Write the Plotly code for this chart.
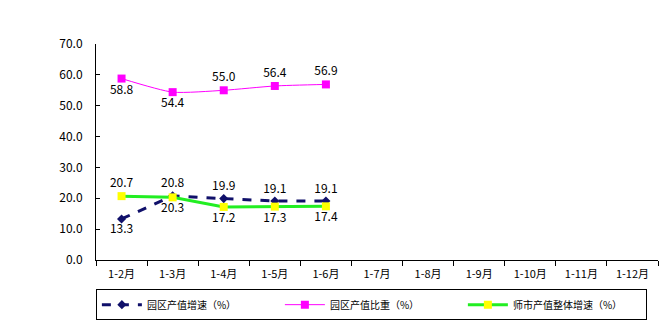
import plotly.graph_objects as go

categories = ["1-2月", "1-3月", "1-4月", "1-5月", "1-6月", "1-7月",
              "1-8月", "1-9月", "1-10月", "1-11月", "1-12月"]
months_done = categories[:5]

park_growth = [13.3, 20.8, 19.9, 19.1, 19.1]       # 园区产值增速（%）
park_share = [58.8, 54.4, 55.0, 56.4, 56.9]        # 园区产值比重（%）
city_growth = [20.7, 20.3, 17.2, 17.3, 17.4]       # 师市产值整体增速（%）

share_pos = ["bottom center", "bottom center", "top center", "top center", "top center"]
park_pos = ["bottom center", "top center", "top center", "top center", "top center"]
city_pos = ["top center", "bottom center", "bottom center", "bottom center", "bottom center"]

y_ticks = [0, 10, 20, 30, 40, 50, 60, 70]

FONT = "Noto Sans CJK SC"
label_font = dict(family=FONT, size=12, color="#000000")

fig = go.Figure()

fig.add_trace(go.Scatter(
    x=months_done, y=park_growth, name="园区产值增速（%）",
    mode="lines+markers+text",
    line=dict(color="#10106a", width=3, dash="dash"),
    marker=dict(symbol="diamond", size=7, color="#10106a"),
    text=[f"{v:.1f}" for v in park_growth], textposition=park_pos,
    textfont=label_font,
))
fig.add_trace(go.Scatter(
    x=months_done, y=park_share, name="园区产值比重（%）",
    mode="lines+markers+text",
    line=dict(color="#ff00ff", width=1, shape="spline", smoothing=0.6),
    marker=dict(symbol="square", size=8, color="#ff00ff"),
    text=[f"{v:.1f}" for v in park_share], textposition=share_pos,
    textfont=label_font,
))
fig.add_trace(go.Scatter(
    x=months_done, y=city_growth, name="师市产值整体增速（%）",
    mode="lines+markers+text",
    line=dict(color="#22ee22", width=3),
    marker=dict(symbol="square", size=8, color="#ffff00"),
    text=[f"{v:.1f}" for v in city_growth], textposition=city_pos,
    textfont=label_font,
))

fig.update_layout(
    width=662, height=325,
    margin=dict(l=96, r=4, t=44, b=65),
    paper_bgcolor="#ffffff", plot_bgcolor="#ffffff",
    font=dict(family=FONT, size=12, color="#000000"),
    showlegend=True,
    legend=dict(
        orientation="h", x=0.49, xanchor="center", y=-0.135, yanchor="top",
        bordercolor="#000000", borderwidth=1, font=dict(family=FONT, size=10),
        entrywidth=128, itemwidth=40, tracegroupgap=0,
    ),
)
fig.update_xaxes(
    type="category", categoryorder="array", categoryarray=categories,
    range=[-0.5, 10.5], showgrid=False, showline=True, linecolor="#000000",
    ticks="outside", tickson="boundaries", ticklen=5, tickcolor="#000000",
    tickfont=dict(family=FONT, size=11), ticklabelstandoff=4,
)
fig.update_yaxes(
    range=[0, 70], tickvals=y_ticks, ticktext=[f"{v:.1f}" for v in y_ticks],
    showgrid=False, showline=True, linecolor="#000000", zeroline=False,
    ticks="inside", ticklen=4, tickcolor="#000000",
    tickfont=dict(family=FONT, size=12), ticklabelstandoff=10,
)

fig.write_html("out.html")
